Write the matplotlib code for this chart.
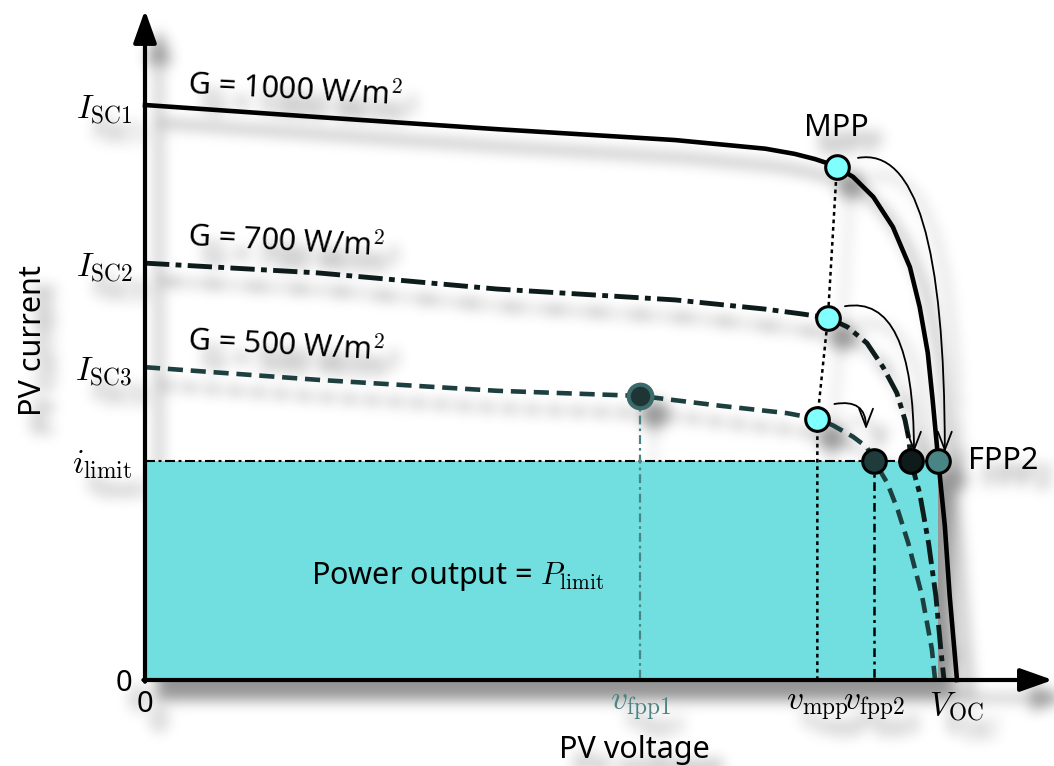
import numpy as np
import matplotlib
matplotlib.use('Agg')
import matplotlib.pyplot as plt

plt.rcParams['font.family'] = ['Noto Sans', 'DejaVu Sans']
plt.rcParams['mathtext.fontset'] = 'cm'

# I-V curves, normalised units (V_OC = 1, I_SC1 = 1)
v_1000 = [0, 0.213, 0.433, 0.653, 0.764, 0.800, 0.825, 0.840, 0.852, 0.872, 0.897, 0.921,
          0.942, 0.954, 0.964, 0.970, 0.977, 0.985, 0.991, 1.0]
i_1000 = [1.0, 0.979, 0.958, 0.939, 0.924, 0.915, 0.906, 0.899, 0.892, 0.875, 0.840, 0.788,
          0.718, 0.649, 0.569, 0.487, 0.381, 0.268, 0.146, 0]

v_700 = [0, 0.213, 0.433, 0.653, 0.764, 0.807, 0.841, 0.865, 0.889, 0.909, 0.926,
         0.936, 0.941, 0.943, 0.954, 0.965, 0.974, 0.980, 0.984]
i_700 = [0.725, 0.708, 0.680, 0.661, 0.645, 0.637, 0.630, 0.614, 0.586, 0.544, 0.499,
         0.452, 0.417, 0.381, 0.325, 0.238, 0.146, 0.054, 0]

v_500 = [0, 0.213, 0.433, 0.610, 0.708, 0.791, 0.828, 0.847, 0.872, 0.889, 0.898,
         0.914, 0.927, 0.940, 0.957, 0.969, 0.973]
i_500 = [0.544, 0.522, 0.503, 0.494, 0.477, 0.464, 0.454, 0.443, 0.423, 0.405, 0.381,
         0.343, 0.296, 0.238, 0.146, 0.054, 0]

i_limit = 0.381
mpp_v = [0.852, 0.841, 0.828]
mpp_i = [0.892, 0.630, 0.454]
fpp2_v = [0.898, 0.943, 0.977]
fpp2_colors = ['#1f3b3b', '#0f1a1a', '#4a8585']
fpp1_v, fpp1_i = 0.610, 0.494

x_ticks = [0, 0.610, 0.828, 0.898, 1.0]
x_labels = ['0', r'$v_{\mathrm{fpp1}}$', r'$v_{\mathrm{mpp}}$', r'$v_{\mathrm{fpp2}}$', r'$V_{\mathrm{OC}}$']
y_ticks = [0, 0.381, 0.544, 0.725, 1.0]
y_labels = ['0', r'$i_{\mathrm{limit}}$', r'$I_{\mathrm{SC3}}$', r'$I_{\mathrm{SC2}}$', r'$I_{\mathrm{SC1}}$']

teal = '#4a8585'

fig = plt.figure(figsize=(10.54, 7.66), dpi=100)
fig.patch.set_facecolor('white')
ax = fig.add_axes([145/1054, 86/766, 812/1054, 575/766])
ax.set_xlim(0, 1)
ax.set_ylim(0, 1)
ax.patch.set_visible(False)
for s in ax.spines.values():
    s.set_visible(False)

# power limited area
ax.fill_between([0, fpp2_v[2]], 0, i_limit, color='#71dfdf', lw=0, zorder=1)
ax.plot([0, fpp2_v[2]], [i_limit, i_limit], color='black', lw=1.5,
        ls=(0, (4.8, 1.7, 1.4, 1.7)), zorder=2, clip_on=False)

# curves
ax.plot(v_1000, i_1000, color='black', lw=3.3, zorder=3, clip_on=False, solid_joinstyle='round')
ax.plot(v_700, i_700, color='#0d1b1b', lw=3.5, ls=(0, (5, 1.3, 1.2, 1.3)), zorder=3, clip_on=False)
ax.plot(v_500, i_500, color='#1d3f3f', lw=3.3, ls=(0, (3.3, 1.7)), zorder=3, clip_on=False)

# guide lines
ax.plot(mpp_v + [mpp_v[2]], mpp_i + [0], color='black', lw=1.8, ls=(0, (1.5, 1.5)), zorder=2)
ax.plot([fpp2_v[0], fpp2_v[0]], [i_limit, 0], color='black', lw=1.8,
        ls=(0, (3.5, 1.8, 1.2, 1.8)), zorder=2)
ax.plot([fpp1_v, fpp1_v], [fpp1_i, 0], color=teal, lw=1.6,
        ls=(0, (4, 1.8, 1.2, 1.8)), zorder=2)

# markers
ax.plot(mpp_v, mpp_i, 'o', ms=17, mfc='#80ffff', mec='black', mew=2.2, zorder=6, clip_on=False)
for v, c in zip(fpp2_v, fpp2_colors):
    ax.plot(v, i_limit, 'o', ms=17, mfc=c, mec='black', mew=2.2, zorder=6, clip_on=False)
ax.plot(fpp1_v, fpp1_i, 'o', ms=17, mfc='#1f3535', mec='#3a6a6a', mew=3, zorder=6)

# curved arrows MPP -> FPP2
starts = [(0.878, 0.908), (0.862, 0.650), (0.849, 0.480)]
ends = [(0.985, 0.396), (0.947, 0.396), (0.888, 0.436)]
for s, e in zip(starts, ends):
    ax.annotate('', xy=e, xytext=s, annotation_clip=False,
                arrowprops=dict(arrowstyle='->,head_length=0.65,head_width=0.25',
                                connectionstyle='angle3,angleA=10,angleB=90',
                                color='black', lw=1.3, mutation_scale=20,
                                shrinkA=0, shrinkB=0), zorder=5)

# axis arrows
ax.annotate('', xy=(0, 1.165), xytext=(0, -0.003), annotation_clip=False,
            arrowprops=dict(arrowstyle='-|>,head_length=0.9,head_width=0.32', color='black',
                            lw=3, mutation_scale=22, shrinkA=0, shrinkB=0), zorder=7)
ax.annotate('', xy=(1.118, 0), xytext=(-0.002, 0), annotation_clip=False,
            arrowprops=dict(arrowstyle='-|>,head_length=0.9,head_width=0.32', color='black',
                            lw=3, mutation_scale=22, shrinkA=0, shrinkB=0), zorder=7)

# ticks
ax.set_xticks(x_ticks, x_labels)
ax.set_yticks(y_ticks, y_labels)
ax.tick_params(length=0, labelsize=24)
ax.tick_params(axis='x', pad=7)
ax.tick_params(axis='y', pad=9)
ax.get_xticklabels()[1].set_color(teal)
ax.get_xticklabels()[0].set_fontsize(21)
ax.get_yticklabels()[0].set_fontsize(21)

# texts
for y, lab in [(1.035, '1000'), (0.77, '700'), (0.59, '500')]:
    ax.text(0.053, y, 'G = %s W/m$^2$' % lab, fontsize=22, rotation=-3,
            rotation_mode='anchor', va='center', ha='left')
ax.text(0.852, 0.960, 'MPP', fontsize=22, ha='center', va='center')
ax.text(1.013, i_limit, 'FPP2', fontsize=22, ha='left', va='center')
ax.text(0.205, 0.18, 'Power output = $P_{\\mathrm{limit}}$', fontsize=22, ha='left', va='center')
ax.set_xlabel('PV voltage', fontsize=22)
ax.set_ylabel('PV current', fontsize=22)
ax.xaxis.set_label_coords(0.603, -0.095)
ax.yaxis.set_label_coords(-0.12, 0.59)

# soft drop shadow behind everything
fig.canvas.draw()
img = np.asarray(fig.canvas.buffer_rgba())[:, :, :3].astype(float)
mask = np.clip((255 - img.min(axis=2)) / 100.0, 0, 1)

def blur(a, s):
    r = int(3 * s)
    k = np.exp(-0.5 * (np.arange(-r, r + 1) / s) ** 2)
    k /= k.sum()
    H, W = a.shape
    p = np.pad(a, ((r, r), (0, 0)))
    t = sum(k[j] * p[j:j + H, :] for j in range(2 * r + 1))
    p = np.pad(t, ((0, 0), (r, r)))
    return sum(k[j] * p[:, j:j + W] for j in range(2 * r + 1))

b = blur(mask, 7)
dx, dy = 14, 18
sh = np.zeros_like(b)
sh[dy:, dx:] = b[:-dy, :-dx]
rgba = np.zeros(sh.shape + (4,))
rgba[..., 3] = sh * 0.42

bg = fig.add_axes([0, 0, 1, 1], zorder=-1)
bg.imshow(rgba, aspect='auto', interpolation='nearest')
bg.axis('off')

fig.savefig('out.png', dpi=100)
